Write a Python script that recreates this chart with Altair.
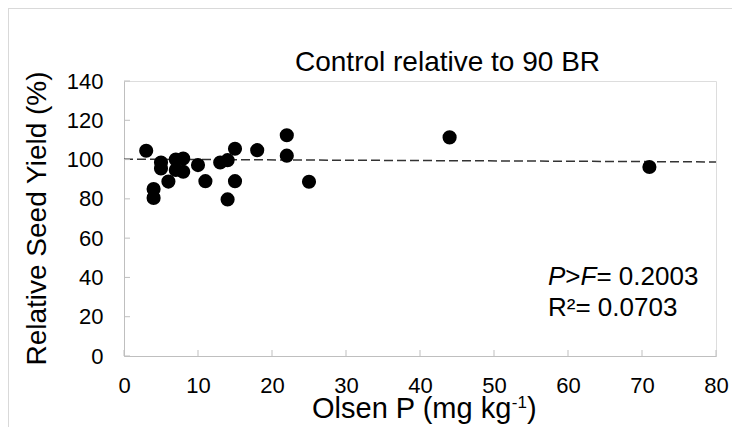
import altair as alt
import pandas as pd

# Data
olsen_p = [3, 4, 4, 5, 5, 6, 7, 7, 8, 8, 10, 11, 13, 14, 14, 15, 15, 18, 22, 22, 25, 44, 71]
rel_yield = [104.5, 85, 80.5, 98.5, 95.5, 88.8, 100, 94.7, 100.5, 93.8, 97.2, 89, 98.5,
             99.7, 79.7, 105.5, 89, 104.8, 112.4, 102, 88.7, 111.3, 96.2]
fit_x = [0, 80]
fit_y = [100.2, 98.8]
x_ticks = [0, 10, 20, 30, 40, 50, 60, 70, 80]
y_ticks = [0, 20, 40, 60, 80, 100, 120, 140]

title_text = "Control relative to 90 BR"
x_title = ["Olsen P (mg kg", "-1", ")"]
y_title = "Relative Seed Yield (%)"
stat1 = ["P", ">", "F", "= 0.2003"]
stat2 = "R\u00b2= 0.0703"

W, H = 592, 275
FONT = "Liberation Sans"
AXC = "#bfbfbf"

pts = pd.DataFrame({"x": olsen_p, "y": rel_yield})
fit = pd.DataFrame({"x": fit_x, "y": fit_y})
xt = pd.DataFrame({"v": x_ticks})
yt = pd.DataFrame({"v": y_ticks})

xs = alt.Scale(domain=[0, 80], nice=False, zero=False)
ys = alt.Scale(domain=[0, 140], nice=False, zero=False)

xaxis = alt.Axis(values=x_ticks, ticks=False, grid=False, title=None, domainColor=AXC,
                 labelFontSize=22, labelColor="black", labelPadding=19, labelFont=FONT,
                 labelOverlap=False, labelFlush=False)
yaxis = alt.Axis(values=y_ticks, ticks=False, grid=False, title=None, domainColor=AXC,
                 labelFontSize=22, labelColor="black", labelPadding=21, labelFont=FONT,
                 labelOverlap=False, labelFlush=False, labelBound=False)

points = alt.Chart(pts).mark_circle(size=200, color="black", opacity=1).encode(
    x=alt.X("x:Q", scale=xs, axis=xaxis),
    y=alt.Y("y:Q", scale=ys, axis=yaxis),
)

line = alt.Chart(fit).mark_line(color="#333333", strokeDash=[9, 4], strokeWidth=1.5).encode(
    x=alt.X("x:Q", scale=xs, axis=xaxis), y=alt.Y("y:Q", scale=ys, axis=yaxis)
)

xtick = alt.Chart(xt).mark_rule(color=AXC).encode(
    x=alt.X("v:Q", scale=xs, axis=xaxis), y=alt.value(H), y2=alt.value(H - 6)
)
ytick = alt.Chart(yt).mark_rule(color=AXC).encode(
    y=alt.Y("v:Q", scale=ys, axis=yaxis), x=alt.value(0), x2=alt.value(6)
)

frame_l = alt.Chart(xt).mark_rule(color="#d9d9d9").encode(
    x=alt.value(-115.5), y=alt.value(-72.5), y2=alt.value(H + 100)
)
frame_t = alt.Chart(xt).mark_rule(color="#d9d9d9").encode(
    x=alt.value(-115.5), x2=alt.value(W + 100), y=alt.value(-72.5)
)

one = pd.DataFrame({"a": [0]})


def txt(text, x, y, size, align="left", baseline="alphabetic", angle=0, style="normal"):
    kw = dict(text=text, font=FONT, fontSize=size, color="black", align=align,
              baseline=baseline, fontStyle=style)
    if angle:
        kw["angle"] = angle
    return alt.Chart(one).mark_text(**kw).encode(x=alt.value(x), y=alt.value(y))


layers = [frame_l, frame_t, line, points, xtick, ytick]

# chart title
layers.append(txt(title_text, 171, -10, 28))
# y title
layers.append(txt(y_title, -86, H / 2, 28, align="center", baseline="middle", angle=270))
# x title with superscript
xt_size = 29
x0 = 188
w1 = 6.891 * xt_size
layers.append(txt(x_title[0], x0, 337, xt_size))
layers.append(txt(x_title[1], x0 + w1, 327, 17))
layers.append(txt(x_title[2], x0 + w1 + 0.889 * 17, 337, xt_size))

# stats
s = 26
sx = 424
widths = [0.667, 0.584, 0.611]
styles = ["italic", "normal", "italic", "normal"]
pos = sx
for i, piece in enumerate(stat1):
    layers.append(txt(piece, pos, 204, s, style=styles[i]))
    if i < 3:
        pos += widths[i] * s
layers.append(txt(stat2, sx, 235, s))

chart = alt.layer(*layers).properties(
    width=W, height=H,
    autosize=alt.AutoSizeParams(type="none"),
    padding={"left": 116, "top": 73, "right": 16, "bottom": 71},
).configure_view(stroke=None).configure(font=FONT)

chart.save("out.html", embed_options={"renderer": "svg", "actions": False})
